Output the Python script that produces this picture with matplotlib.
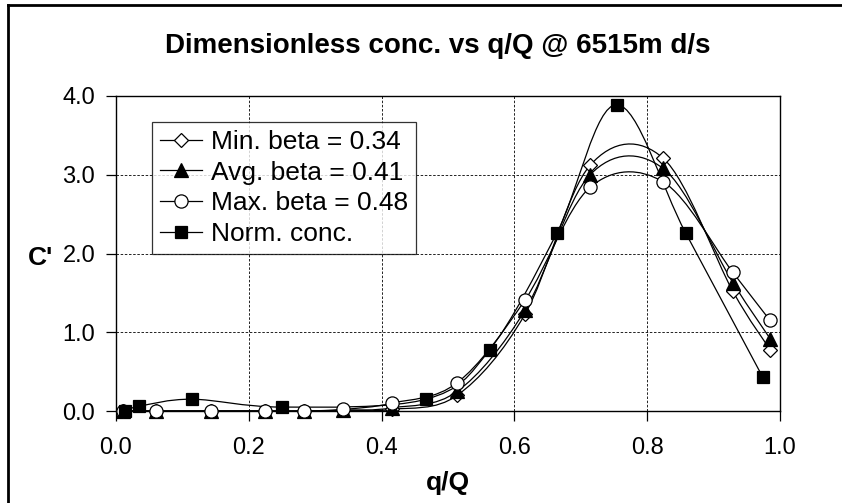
import numpy as np
import matplotlib
matplotlib.use("Agg")
import matplotlib.pyplot as plt
from matplotlib.path import Path
from matplotlib.patches import PathPatch
from matplotlib.lines import Line2D

plt.rcParams["font.family"] = ["Liberation Sans", "DejaVu Sans"]

# q/Q stations for the beta runs
q_beta = [0.01, 0.06, 0.143, 0.224, 0.283, 0.342, 0.416, 0.514, 0.616, 0.714, 0.824, 0.929, 0.985]
c_min = [0.0, 0.0, 0.0, 0.0, 0.0, 0.01, 0.02, 0.20, 1.23, 3.12, 3.21, 1.52, 0.78]
c_avg = [0.0, 0.0, 0.0, 0.0, 0.0, 0.01, 0.04, 0.25, 1.28, 3.00, 3.08, 1.63, 0.92]
c_max = [0.0, 0.0, 0.0, 0.0, 0.0, 0.02, 0.10, 0.36, 1.41, 2.84, 2.91, 1.76, 1.15]

# measured normalised concentration
q_norm = [0.0136, 0.035, 0.114, 0.25, 0.467, 0.563, 0.664, 0.754, 0.858, 0.974]
c_norm = [0.0, 0.06, 0.15, 0.05, 0.15, 0.78, 2.26, 3.89, 2.26, 0.43]

labels = ["Min. beta = 0.34", "Avg. beta = 0.41", "Max. beta = 0.48", "Norm. conc."]

W, H = 842, 503


def smooth_path(x, y, k=1.0 / 6.0):
    # spreadsheet-style smoothed line: cubic Bezier through every point
    pts = np.column_stack([x, y]).astype(float)
    n = len(pts)
    verts = [pts[0]]
    codes = [Path.MOVETO]
    for i in range(n - 1):
        p0 = pts[i - 1] if i > 0 else pts[i]
        p1 = pts[i]
        p2 = pts[i + 1]
        p3 = pts[i + 2] if i + 2 < n else pts[i + 1]
        verts += [p1 + (p2 - p0) * k, p2 - (p3 - p1) * k, p2]
        codes += [Path.CURVE4] * 3
    return Path(verts, codes)


fig = plt.figure(figsize=(W / 100, H / 100), dpi=100)
ax = fig.add_axes([116 / W, 1 - 411 / H, 664 / W, 315 / H])

series = [
    (q_beta, c_min, dict(marker="D", ms=7.5, mfc="white", mec="black")),
    (q_beta, c_avg, dict(marker="^", ms=9.5, mfc="black", mec="black")),
    (q_beta, c_max, dict(marker="o", ms=9.5, mfc="white", mec="black")),
    (q_norm, c_norm, dict(marker="s", ms=9, mfc="black", mec="black")),
]

handles = []
for (xs, ys, mk), lab in zip(series, labels):
    ax.add_patch(PathPatch(smooth_path(xs, ys), fill=False, edgecolor="black",
                           lw=0.9, clip_on=False, zorder=3))
    ax.plot(xs, ys, ls="none", mew=0.9, clip_on=False, zorder=4, **mk)
    handles.append(Line2D([], [], color="black", lw=0.9, mew=0.9, label=lab, **mk))

ax.set_xlim(0, 1.0)
ax.set_ylim(0, 4.0)
xt = np.arange(0, 1.01, 0.2)
yt = np.arange(0, 4.01, 1.0)
ax.set_xticks(xt)
ax.set_yticks(yt)
ax.set_xticklabels([f"{v:.1f}" for v in xt])
ax.set_yticklabels([f"{v:.1f}" for v in yt])
ax.tick_params(direction="out", length=7, width=0.9, labelsize=17, color="black")
ax.tick_params(axis="x", pad=12)
ax.tick_params(axis="y", pad=8)
ax.grid(True, color="black", ls=(0, (3, 2)), lw=0.6)
for s in ax.spines.values():
    s.set_linewidth(1.0)

# title and axis labels
fig.text(437.5 / W, 1 - 53 / H, "Dimensionless conc. vs q/Q @ 6515m d/s",
         fontsize=20, fontweight="bold", ha="center", va="baseline")
fig.text(448 / W, 1 - 490 / H, "q/Q", fontsize=19, fontweight="bold",
         ha="center", va="baseline")
fig.text(53 / W, 1 - 265 / H, "C'", fontsize=19, fontweight="bold",
         ha="right", va="baseline")

leg = ax.legend(handles=handles, loc="upper left", bbox_to_anchor=(0.054, 0.917),
                fontsize=19, frameon=True, fancybox=False, handlelength=1.6,
                handletextpad=0.34, labelspacing=0.25, borderpad=0.3, borderaxespad=0)
leg.get_frame().set_edgecolor("black")
leg.get_frame().set_linewidth(0.9)

# chart border (left and top edges)
fig.add_artist(Line2D([7.5 / W, 7.5 / W], [0, 1 - 4.5 / H], color="black", lw=2))
fig.add_artist(Line2D([7.5 / W, 1], [1 - 4.5 / H, 1 - 4.5 / H], color="black", lw=2))

fig.savefig("out.png", dpi=100)
